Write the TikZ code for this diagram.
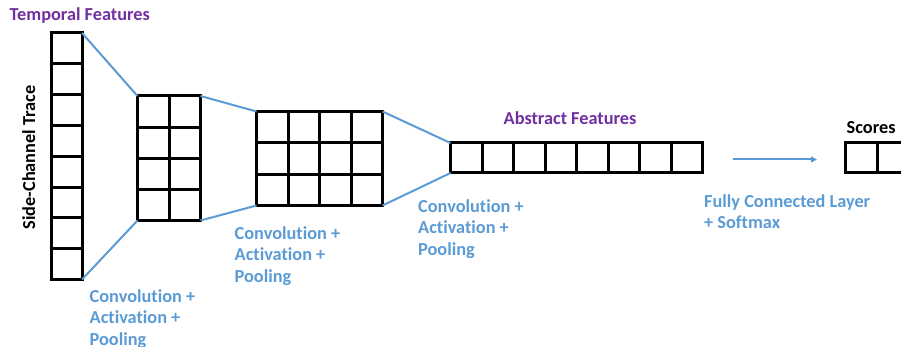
\documentclass[tikz,border=0pt]{standalone}
\usepackage{fontspec}
\setmainfont{Carlito}[Ligatures=NoCommon,RawFeature={-liga;-dlig;-clig}]
\usetikzlibrary{arrows.meta,calc}
\definecolor{cblue}{HTML}{5B9BD5}
\definecolor{cpurple}{HTML}{7030A0}
\begin{document}
\begin{tikzpicture}[x=1pt,y=-1pt,
  gridbox/.style={draw=black, line width=3pt, inner sep=0pt, outer sep=0pt, anchor=north west},
  gridline/.style={draw=black, line width=3pt},
  link/.style={draw=cblue, line width=2pt},
  lbl/.style={font=\fontsize{18.3}{21.8}\selectfont\bfseries, inner sep=0pt, align=left},
  bluelbl/.style={lbl, text=cblue, anchor=north west},
  purplelbl/.style={lbl, text=cpurple, anchor=base west},
  blacklbl/.style={lbl, text=black, anchor=base west}]
\useasboundingbox (0,0) rectangle (901,347);

% grids
\node[gridbox, minimum width=30.5pt, minimum height=246.5pt] (trace) at (51.5,33) {};
\foreach \i in {1,...,7}
  \draw[gridline] ($(trace.north west)!\i/8!(trace.south west)$) -- ($(trace.north east)!\i/8!(trace.south east)$);

\node[gridbox, minimum width=63pt, minimum height=124.5pt] (g2) at (137.5,96) {};
\draw[gridline] (g2.north) -- (g2.south);
\foreach \i in {1,...,3}
  \draw[gridline] ($(g2.north west)!\i/4!(g2.south west)$) -- ($(g2.north east)!\i/4!(g2.south east)$);

\node[gridbox, minimum width=126pt, minimum height=94pt] (g3) at (256.5,111.5) {};
\foreach \i in {1,...,3}
  \draw[gridline] ($(g3.north west)!\i/4!(g3.north east)$) -- ($(g3.south west)!\i/4!(g3.south east)$);
\foreach \i in {1,2}
  \draw[gridline] ($(g3.north west)!\i/3!(g3.south west)$) -- ($(g3.north east)!\i/3!(g3.south east)$);

\node[gridbox, minimum width=252pt, minimum height=30pt] (abs) at (450.5,143) {};
\foreach \i in {1,...,7}
  \draw[gridline] ($(abs.north west)!\i/8!(abs.north east)$) -- ($(abs.south west)!\i/8!(abs.south east)$);

\node[gridbox, minimum width=63pt, minimum height=30pt] (sc) at (845.5,143) {};
\draw[gridline] (sc.north) -- (sc.south);

% connectors
\draw[link] (trace.north east) -- (g2.north west);
\draw[link] (trace.south east) -- (g2.south west);
\draw[link] (g2.north east) -- (g3.north west);
\draw[link] (g2.south east) -- (g3.south west);
\draw[link] (g3.north east) -- (abs.north west);
\draw[link] (g3.south east) -- (abs.south west);

\coordinate (fcs) at (733,159.5);
\coordinate (fce) at (817,159.5);
\draw[link, -{Triangle[length=6pt,width=6pt]}] (fcs) -- (fce);

% labels
\node[purplelbl] (tf) at (9.5,21) {Temporal Features};
\node[lbl, rotate=90, anchor=base] (sct) at (35,157.5) {Side-Channel Trace};
\node[bluelbl] (l1) at (89.5,289) {Convolution +\\Activation +\\Pooling};
\node[bluelbl] (l2) at (234.5,226) {Convolution +\\Activation +\\Pooling};
\node[bluelbl] (l3) at (418,199) {Convolution +\\Activation +\\Pooling};
\node[purplelbl] (af) at (503.5,125) {Abstract Features};
\node[blacklbl] (scl) at (846.5,133.5) {Scores};
\node[bluelbl] (fc) at (704,194) {Fully Connected Layer\\+ Softmax};
\end{tikzpicture}
\end{document}
